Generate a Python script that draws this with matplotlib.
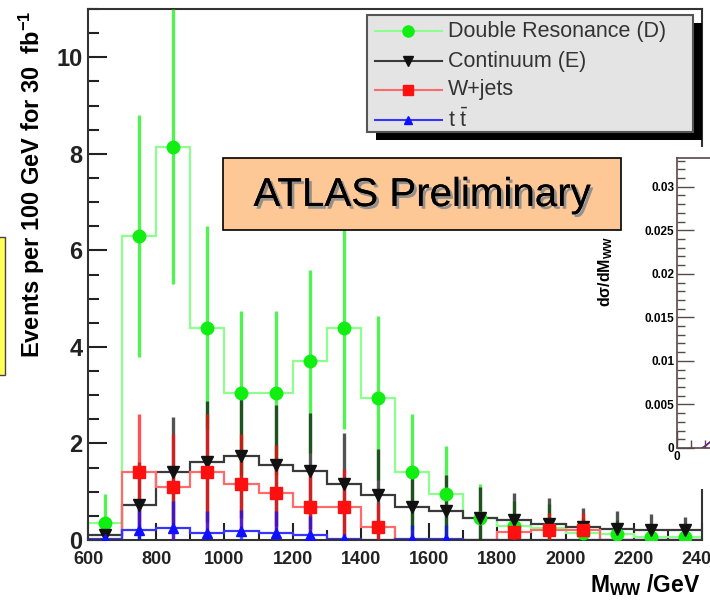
import numpy as np
import matplotlib
matplotlib.use("Agg")
import matplotlib.pyplot as plt
from matplotlib.patches import Rectangle
from matplotlib.lines import Line2D
from matplotlib.ticker import MultipleLocator
import matplotlib.patheffects as pe

plt.rcParams['font.family'] = ['Liberation Sans', 'DejaVu Sans']
plt.rcParams['mathtext.fontset'] = 'custom'
plt.rcParams['mathtext.rm'] = 'Liberation Sans'
plt.rcParams['mathtext.bf'] = 'Liberation Sans:bold'
plt.rcParams['mathtext.it'] = 'Liberation Sans:italic'
plt.rcParams['mathtext.default'] = 'bf'

# bins of M_WW (GeV)
edges = [600, 700, 800, 900, 1000, 1100, 1200, 1300, 1400, 1500, 1600,
         1700, 1800, 1900, 2000, 2100, 2200, 2300, 2400]
centers = [650, 750, 850, 950, 1050, 1150, 1250, 1350, 1450, 1550, 1650,
           1750, 1850, 1950, 2050, 2150, 2250, 2350]

# events per 100 GeV
double_res = [0.35, 6.3, 8.15, 4.4, 3.05, 3.05, 3.7, 4.4, 2.95, 1.4, 0.95,
              0.45, 0.3, 0.25, 0.15, 0.12, 0.07, 0.07]
double_res_err = [0.6, 2.5, 2.85, 2.1, 1.7, 1.7, 1.9, 2.1, 1.7, 1.2, 1.0,
                  0.7, 0.5, 0.5, 0.3, 0.3, 0.25, 0.25]
continuum = [0.1, 0.72, 1.4, 1.62, 1.75, 1.55, 1.43, 1.16, 0.93, 0.68, 0.6,
             0.45, 0.41, 0.33, 0.27, 0.22, 0.2, 0.2]
continuum_err = [0.2, 0.9, 1.15, 1.25, 1.3, 1.25, 1.2, 1.05, 0.95, 0.8, 0.75,
                 0.65, 0.57, 0.55, 0.4, 0.38, 0.33, 0.28]
wjets = [0, 1.41, 1.1, 1.4, 1.15, 0.97, 0.68, 0.68, 0.27, 0, 0,
         0, 0.17, 0.2, 0.2, 0, 0, 0]
wjets_err = [0, 1.2, 1.1, 1.2, 1.05, 1.0, 0.8, 0.8, 0.5, 0, 0,
             0, 0.35, 0.35, 0.35, 0, 0, 0]
ttbar = [0.02, 0.2, 0.25, 0.15, 0.18, 0.15, 0.1, 0.02, 0, 0.02, 0.02,
         0, 0, 0, 0, 0, 0, 0]
ttbar_err = [0.05, 0.6, 0.55, 0.45, 0.45, 0.45, 0.4, 0.1, 0, 0.3, 0.3,
             0, 0, 0, 0, 0, 0, 0]

labels = ['Double Resonance (D)', 'Continuum (E)', 'W+jets', r't $\mathrm{\bar{t}}$']

# inset curve (d sigma / dM_WW), only its start is visible
inset_x = [180, 200, 260, 320]
inset_y = [0, 0.0002, 0.0010, 0.0019]

W, H = 710, 605
fig = plt.figure(figsize=(W / 100, H / 100), dpi=100)


def fx(x):
    return x / W


def fy(y):
    return 1 - y / H


ax = fig.add_axes([fx(88), fy(540), (702 - 88) / W, (540 - 9) / H])

series = [
    (double_res, double_res_err, '#8cff8c', '#11ee11', 'o', 9),
    (continuum, continuum_err, '#3a3a3a', '#111111', 'v', 8),
    (wjets, wjets_err, '#ff6a6a', '#ff1010', 's', 8),
    (ttbar, ttbar_err, '#3535ff', '#1010ff', '^', 7),
]

c = np.array(centers)
for i, (vals, err, lc, mc, mk, ms) in enumerate(series):
    v = np.array(vals)
    ax.stairs(v, edges, color=lc, lw=1.6, baseline=None, zorder=2 + i * 0.01)
for i, (vals, err, lc, mc, mk, ms) in enumerate(series):
    v = np.array(vals)
    e = np.array(err)
    m = v > 0
    lo = np.minimum(v, e)
    ax.errorbar(c[m], v[m], yerr=[lo[m], e[m]], fmt='none', ecolor=mc,
                elinewidth=2.4, alpha=0.72, capsize=0, zorder=3 + i * 0.01)
for i, (vals, err, lc, mc, mk, ms) in enumerate(series):
    v = np.array(vals)
    m = v > 0
    ax.plot(c[m], v[m], ls='none', marker=mk, color=mc, ms=ms, zorder=4 + i * 0.01)

ax.set_xlim(600, 2400)
ax.set_ylim(0, 11)
ax.set_xticks([600, 800, 1000, 1200, 1400, 1600, 1800, 2000, 2200, 2400])
ax.xaxis.set_minor_locator(MultipleLocator(100))
ax.yaxis.set_major_locator(MultipleLocator(2))
ax.yaxis.set_minor_locator(MultipleLocator(0.5))
ax.tick_params(which='both', direction='in', colors='#222222', width=1.5)
ax.tick_params(axis='y', which='major', length=14, labelsize=17, pad=4)
ax.tick_params(axis='y', which='minor', length=8)
ax.tick_params(axis='x', which='major', length=12, labelsize=13, pad=8)
ax.tick_params(axis='x', which='minor', length=7)
for lbl in ax.get_xticklabels() + ax.get_yticklabels():
    lbl.set_fontweight('bold')
for s in ax.spines.values():
    s.set_linewidth(1.5)
    s.set_color('#333333')

fig.text(fx(32), fy(184), r'Events per 100 GeV for 30  fb$^{-1}$', rotation=90,
         ha='center', va='center', fontsize=17, fontweight='bold')
fig.text(fx(700), fy(592), r'$\mathbf{M_{WW}}$ /GeV', ha='right', va='baseline',
         fontsize=16.5, fontweight='bold')

# white patch behind the pasted inset
fig.add_artist(Rectangle((fx(592), fy(489)), (715 - 592) / W, (489 - 147) / H,
                         transform=fig.transFigure, facecolor='white',
                         edgecolor='none', zorder=1.5))

# inset plot
ins = fig.add_axes([fx(677), fy(448), 280 / W, (448 - 158) / H], zorder=3)
ins.plot(inset_x, inset_y, color='#d02020', lw=1.3)
ins.plot(inset_x, inset_y, color='#3030c0', lw=0.8)
ins.set_xlim(0, 2000)
ins.set_ylim(0, 0.0333)
ins.set_yticks([0, 0.005, 0.01, 0.015, 0.02, 0.025, 0.03])
ins.set_yticklabels(['0', '0.005', '0.01', '0.015', '0.02', '0.025', '0.03'])
ins.yaxis.set_minor_locator(MultipleLocator(0.001))
ins.set_xticks([0])
ins.set_xticklabels(['0'])
ins.xaxis.set_minor_locator(MultipleLocator(100))
ins.tick_params(which='both', direction='in', colors='#5a4848', labelcolor='black', width=1.0)
ins.tick_params(which='major', length=12, labelsize=8.5, pad=2)
ins.tick_params(which='minor', length=6)
for lbl in ins.get_xticklabels() + ins.get_yticklabels():
    lbl.set_fontweight('bold')
for s in ins.spines.values():
    s.set_color('#5a4848')
    s.set_linewidth(1.2)
fig.text(fx(606), fy(271), r'd$\sigma$/dM$_{WW}$', rotation=90, ha='center',
         va='center', fontsize=11.5, fontweight='bold', zorder=4)

# yellow box at the left edge
fig.add_artist(Rectangle((fx(-10), fy(375)), 15 / W, (375 - 237) / H,
                         transform=fig.transFigure, facecolor='#ffff55',
                         edgecolor='#444444', lw=1.0, zorder=5))

# ATLAS Preliminary box
fig.add_artist(Rectangle((fx(223), fy(230)), (621 - 223) / W, (230 - 158) / H,
                         transform=fig.transFigure, facecolor='#fdc896',
                         edgecolor='black', lw=1.2, zorder=5))
t = fig.text(fx(422), fy(195), 'ATLAS Preliminary', ha='center', va='center',
             fontsize=29, color='black', zorder=6)
t.set_path_effects([pe.withSimplePatchShadow(offset=(2, -2), shadow_rgbFace='#8a8a8a', alpha=0.9),
                    pe.Normal()])

# legend
fig.add_artist(Rectangle((fx(376), fy(140)), (702 - 376) / W, (140 - 23) / H,
                         transform=fig.transFigure, facecolor='black',
                         edgecolor='none', zorder=5))
fig.add_artist(Rectangle((fx(367), fy(132)), (693 - 367) / W, (132 - 15) / H,
                         transform=fig.transFigure, facecolor='#e4e4e4',
                         edgecolor='#555555', lw=1.5, zorder=6))
entry_y = [31, 61, 90, 120]
for (vals, err, lc, mc, mk, ms), lab, yy in zip(series, labels, entry_y):
    fig.add_artist(Line2D([fx(375), fx(442)], [fy(yy), fy(yy)], color=lc, lw=1.5,
                          transform=fig.transFigure, zorder=7))
    fig.add_artist(Line2D([fx(408)], [fy(yy)], marker=mk, color=mc, ms=ms - 1,
                          ls='none', transform=fig.transFigure, zorder=7))
    fig.text(fx(448), fy(yy), lab, ha='left', va='center', fontsize=15.5,
             color='#333333', zorder=7)

fig.savefig('out.png', dpi=100)
